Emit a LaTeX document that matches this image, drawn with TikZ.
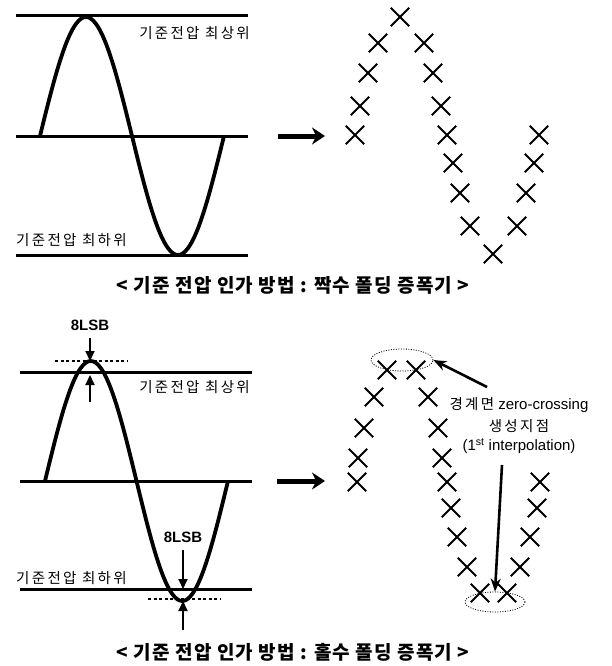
\documentclass[tikz,border=0pt]{standalone}
\usepackage{fontspec}
\setmainfont{Liberation Sans}
\newfontfamily\kr{Noto Sans CJK KR}[LetterSpace=16]
\newfontfamily\krcap{Noto Sans CJK KR}[LetterSpace=6]
\usetikzlibrary{arrows.meta,shapes.geometric,shapes.misc}
\tikzset{
  refline/.style={line width=3pt},
  sinecurve/.style={line width=3.8pt},
  xmark/.style={cross out, draw, line width=1.9pt, minimum size=16.5pt, inner sep=0pt},
  bigarrow/.style={line width=5pt, -{Stealth[length=13pt,width=17pt]}},
  lsbarrow/.style={line width=2pt, -{Triangle[length=10pt,width=9pt]}},
  lsbdots/.style={line width=1.8pt, dash pattern=on 3pt off 2.5pt},
  zcell/.style={ellipse, draw, line width=0.8pt, dash pattern=on 1pt off 1.5pt, inner sep=0pt},
  ptr/.style={line width=2.6pt, -{Stealth[length=13pt,width=10pt]}},
  klabel/.style={font=\kr\fontsize{14.5}{16}\selectfont, inner sep=0pt},
  lsblabel/.style={font=\bfseries\fontsize{15}{17}\selectfont, inner sep=0pt},
  caption/.style={font=\krcap\bfseries\fontsize{19}{21}\selectfont, inner sep=0pt},
  note/.style={font=\fontsize{15}{17}\selectfont, inner sep=0pt, align=center}
}
\begin{document}
\begin{tikzpicture}[x=1pt,y=-1pt]
\useasboundingbox (0,0) rectangle (612,666);
% ---------- top panel ----------
\coordinate (tA1) at (16,16);  \coordinate (tA2) at (248,16);
\coordinate (tB1) at (16,136); \coordinate (tB2) at (248,136);
\coordinate (tC1) at (16,255); \coordinate (tC2) at (248,255);
\draw[refline] (tA1) -- (tA2);
\draw[refline] (tB1) -- (tB2);
\draw[refline] (tC1) -- (tC2);
\draw[sinecurve] plot[smooth, domain=0:360, samples=73, variable=\t] ({40+\t/360*184}, {136-119*sin(\t)});
\node[klabel, anchor=east] (tlabU) at (250,33) {기준전압 최상위};
\node[klabel, anchor=west] (tlabL) at (16,240) {기준전압 최하위};
\coordinate (tarS) at (278,136); \coordinate (tarE) at (325,136);
\draw[bigarrow] (tarS) -- (tarE);
\foreach \n/\x/\y in {1/400/17, 2/378/43, 3/424/43, 4/368/73, 5/433/73, 6/360/106, 7/441/106,
  8/355/135, 9/447/135, 10/539/135, 11/453/163, 12/534/163, 13/460/193, 14/526/193,
  15/470/226, 16/517/226, 17/493/254}
  \node[xmark] (tx\n) at (\x,\y) {};
\node[caption] (cap1) at (293,285) {< 기준 전압 인가 방법 : 짝수 폴딩 증폭기 >};
% ---------- bottom panel ----------
\coordinate (bA1) at (20,372); \coordinate (bA2) at (252,372);
\coordinate (bB1) at (20,481); \coordinate (bB2) at (252,481);
\coordinate (bC1) at (20,589); \coordinate (bC2) at (252,589);
\draw[refline] (bA1) -- (bA2);
\draw[refline] (bB1) -- (bB2);
\draw[refline] (bC1) -- (bC2);
\draw[sinecurve] plot[smooth, domain=0:360, samples=73, variable=\t] ({45+\t/360*183}, {481-120*sin(\t)});
\node[klabel, anchor=east] (blabU) at (250,387) {기준전압 최상위};
\node[klabel, anchor=west] (blabL) at (16,578) {기준전압 최하위};
% 8LSB top
\node[lsblabel] (lsb1) at (90,325) {8LSB};
\coordinate (d1S) at (90,338); \coordinate (d1E) at (90,361);
\coordinate (u1S) at (90,402); \coordinate (u1E) at (90,375);
\draw[lsbarrow] (d1S) -- (d1E);
\draw[lsbarrow] (u1S) -- (u1E);
\coordinate (dl1a) at (55,361); \coordinate (dl1b) at (127,361);
\draw[lsbdots] (dl1a) -- (dl1b);
% 8LSB bottom
\node[lsblabel] (lsb2) at (183,537) {8LSB};
\coordinate (d2S) at (183,550); \coordinate (d2E) at (183,589);
\coordinate (u2S) at (183,630); \coordinate (u2E) at (183,601);
\draw[lsbarrow] (d2S) -- (d2E);
\draw[lsbarrow] (u2S) -- (u2E);
\coordinate (dl2a) at (148,599); \coordinate (dl2b) at (220,599);
\draw[lsbdots] (dl2a) -- (dl2b);
\coordinate (barS) at (277,481); \coordinate (barE) at (325,481);
\draw[bigarrow] (barS) -- (barE);
\foreach \n/\x/\y in {1/387/370, 2/416/370, 3/374/397, 4/428/397, 5/364/428, 6/438/428,
  7/358/458, 8/442/458, 9/357/482, 10/447/482, 11/540/482, 12/451/508, 13/537/508,
  14/457/537, 15/530/537, 16/467/567, 17/520/567, 18/480/593, 19/507/593}
  \node[xmark] (bx\n) at (\x,\y) {};
\node[zcell, minimum width=62pt, minimum height=22pt] (ell1) at (402,360) {};
\node[zcell, minimum width=60pt, minimum height=20pt] (ell2) at (495,602) {};
\node[note] (zc) at (519,405) {{\kr\fontsize{14.5}{16}\selectfont 경계면} zero-crossing};
\node[note, font=\kr\fontsize{14.5}{16}\selectfont] (gen) at (519,426) {생성지점};
\node[note] (interp) at (519,446) {(1\textsuperscript{st} interpolation)};
\coordinate (p1S) at (487,387);
\coordinate (p2S) at (502,465);
\draw[ptr] (p1S) -- (ell1.east);
\draw[ptr] (p2S) -- (ell2.north);
\node[caption] (cap2) at (293,652) {< 기준 전압 인가 방법 : 홀수 폴딩 증폭기 >};
\end{tikzpicture}
\end{document}
